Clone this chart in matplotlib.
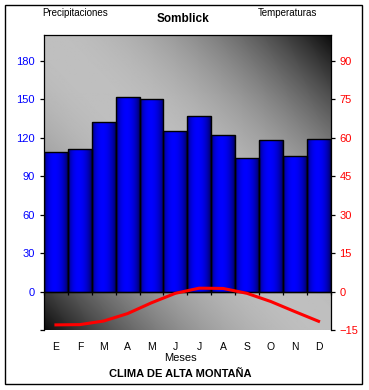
import matplotlib.pyplot as plt
import numpy as np
from matplotlib.patches import Rectangle

plt.rcParams['font.family'] = ['Liberation Sans', 'DejaVu Sans']

months = ['E', 'F', 'M', 'A', 'M', 'J', 'J', 'A', 'S', 'O', 'N', 'D']
precip = [109, 111, 132, 152, 150, 125, 137, 122, 104, 118, 106, 119]
temp = [-13.0, -12.9, -11.5, -8.6, -4.4, -0.7, 1.3, 1.2, -0.7, -3.9, -7.8, -11.6]
precip_ticks = [-30, 0, 30, 60, 90, 120, 150, 180]
temp_ticks = [-15, 0, 15, 30, 45, 60, 75, 90]

W, H = 369, 390
fig = plt.figure(figsize=(W / 100, H / 100), dpi=100)

# outer frame
fig.patches.append(Rectangle((5 / W, 6 / H), 357 / W, 379 / H, transform=fig.transFigure,
                             fill=False, edgecolor='black', linewidth=1.0))

ax = fig.add_axes([44 / W, 60 / H, 286.5 / W, 295 / H])

# diagonal grey gradient of the plot area
u = np.linspace(0, 1, 300)
U, V = np.meshgrid(u, u)
d = np.abs(U - V)
grey = 0.75 - 0.7 * d ** 2
ax.imshow(grey, cmap='gray', vmin=0, vmax=1, extent=[0, 1, 0, 1], transform=ax.transAxes,
          aspect='auto', origin='upper', zorder=0, interpolation='bilinear')

# bars with cylinder-like blue shading
x = np.arange(len(months))
bars = ax.bar(x, precip, width=1.0, facecolor='none', edgecolor='black', linewidth=1.0, zorder=3)
t = np.linspace(0, 1, 64)
shade = 0.3 + 0.7 * np.sin(np.pi * t ** 0.85) ** 0.6
blue = np.zeros((1, len(t), 3))
blue[0, :, 2] = shade
for xi, h, bar in zip(x, precip, bars):
    im = ax.imshow(blue, extent=[xi - 0.5, xi + 0.5, 0, h], aspect='auto', zorder=2,
                   interpolation='bilinear')
    im.set_clip_path(bar)
ax.set_xlim(-0.5, 11.5)
ax.set_ylim(-30, 200)

# axes styling
ax.spines['right'].set_visible(False)
ax.spines['bottom'].set_position(('data', 0))
ax.spines['bottom'].set_zorder(4)
for s in ['left', 'top', 'bottom']:
    ax.spines[s].set_linewidth(0.9)
ax.set_yticks(precip_ticks)
ax.set_yticklabels([''] + [str(v) for v in precip_ticks[1:]])
ax.tick_params(axis='y', direction='out', length=3, width=0.9, colors='black',
               labelcolor='blue', labelsize=8, pad=3.5)
ax.set_xticks(np.arange(-0.5, 12, 1.0))
ax.tick_params(axis='x', direction='out', length=2.5, width=0.9, labelbottom=False)

# month labels along the bottom of the plot area
sec = ax.secondary_xaxis(0.0, transform=ax.transAxes)
sec.set_xticks(x, months)
sec.spines['bottom'].set_visible(False)
sec.tick_params(length=0, labelsize=7.5, pad=8.5)

ax2 = ax.twinx()
ax2.set_ylim(-15, 100)
ax2.plot(x, temp, color='red', linewidth=2.2, solid_joinstyle='round', zorder=5)
for s in ['left', 'top', 'bottom']:
    ax2.spines[s].set_visible(False)
ax2.spines['right'].set_linewidth(0.9)
ax2.set_yticks(temp_ticks)
ax2.tick_params(axis='y', direction='out', length=3, width=0.9, colors='black',
                labelcolor='red', labelsize=8, pad=3.5)

fig.text(75 / W, 1 - 13 / H, 'Precipitaciones', ha='center', va='center', fontsize=7)
fig.text(287 / W, 1 - 13 / H, 'Temperaturas', ha='center', va='center', fontsize=7)
fig.text(183 / W, 1 - 19 / H, 'Somblick', ha='center', va='center', fontsize=8.5, fontweight='bold')
fig.text(180 / W, 1 - 358 / H, 'Meses', ha='center', va='center', fontsize=8)
fig.text(180 / W, 1 - 374 / H, 'CLIMA DE ALTA MONTAÑA', ha='center', va='center',
         fontsize=8, fontweight='bold')

fig.savefig('out.png', dpi=100)
